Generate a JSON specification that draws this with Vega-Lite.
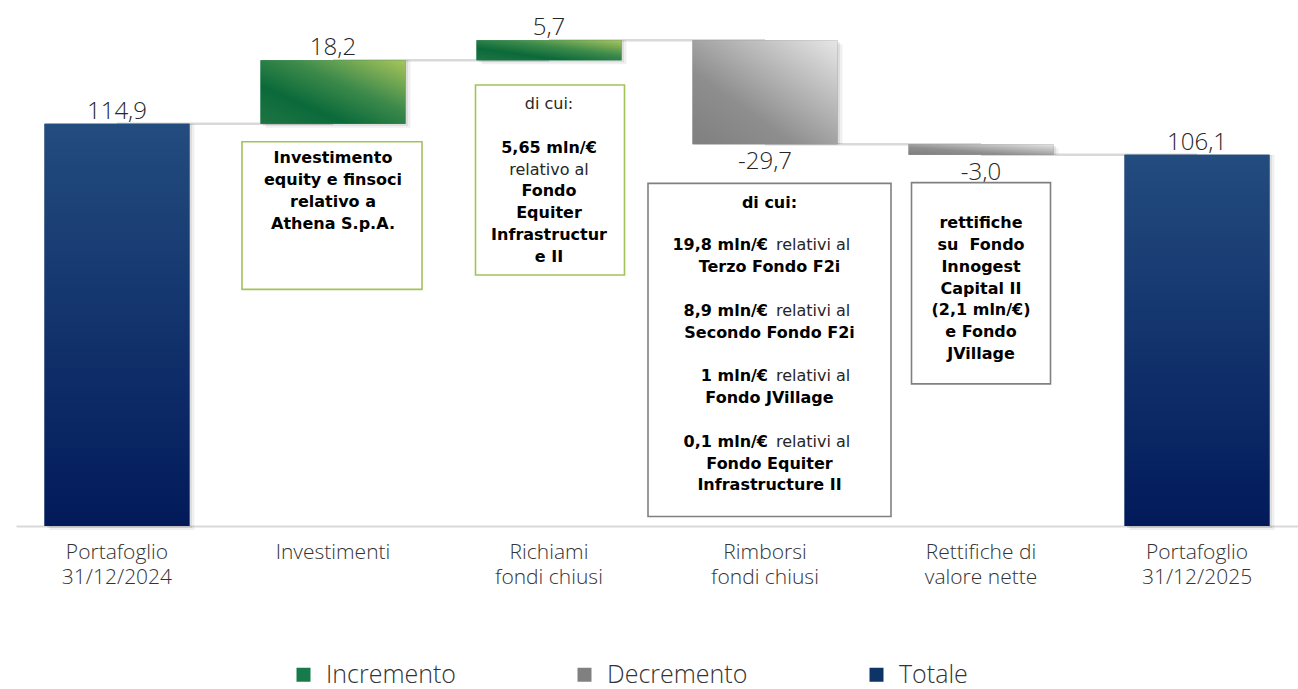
{
  "$schema": "https://vega.github.io/schema/vega-lite/v6.json",
  "width": 1282,
  "height": 525,
  "autosize": "none",
  "padding": {"left": 16, "top": 1, "right": 0, "bottom": 163},
  "background": "white",
  "config": {
    "view": {"stroke": null},
    "font": "Open Sans",
    "locale": {"number": {"decimal": ",", "thousands": ".", "grouping": [3], "currency": ["", " €"], "minus": "-"}}
  },
  "datasets": {
    "bars": [
      {"cat": "Portafoglio|31/12/2024", "start": 0, "end": 114.9, "delta": 114.9, "type": "Totale", "next": "Investimenti"},
      {"cat": "Investimenti", "start": 114.9, "end": 133.1, "delta": 18.2, "type": "Incremento", "next": "Richiami|fondi chiusi"},
      {"cat": "Richiami|fondi chiusi", "start": 133.1, "end": 138.8, "delta": 5.7, "type": "Incremento", "next": "Rimborsi|fondi chiusi"},
      {"cat": "Rimborsi|fondi chiusi", "start": 138.8, "end": 109.1, "delta": -29.7, "type": "Decremento", "next": "Rettifiche di|valore nette"},
      {"cat": "Rettifiche di|valore nette", "start": 109.1, "end": 106.1, "delta": -3.0, "type": "Decremento", "next": "Portafoglio|31/12/2025"},
      {"cat": "Portafoglio|31/12/2025", "start": 0, "end": 106.1, "delta": 106.1, "type": "Totale", "next": null}
    ],
    "boxes": [
      {"cat": "Investimenti", "top": 109.8, "bottom": 67.6},
      {"cat": "Richiami|fondi chiusi", "top": 126.0, "bottom": 71.7},
      {"cat": "Rimborsi|fondi chiusi", "top": 97.9, "bottom": 2.7},
      {"cat": "Rettifiche di|valore nette", "top": 98.1, "bottom": 40.6}
    ],
    "notesB": [
      {"cat": "Investimenti", "v": 103.6, "t": "Investimento\nequity e finsoci\nrelativo a\nAthena S.p.A."},
      {"cat": "Richiami|fondi chiusi", "v": 106.7, "t": "5,65 mln/€"},
      {"cat": "Richiami|fondi chiusi", "v": 94.2, "t": "Fondo\nEquiter\nInfrastructur\ne II"},
      {"cat": "Rettifiche di|valore nette", "v": 85.1, "t": "rettifiche\nsu\u00a0 Fondo\nInnogest\nCapital II\n(2,1 mln/€)\ne Fondo\nJVillage"}
    ],
    "notesR": [
      {"cat": "Richiami|fondi chiusi", "v": 119.1, "t": "di cui:"},
      {"cat": "Richiami|fondi chiusi", "v": 100.4, "t": "relativo al"}
    ],
    "notes3B": [
      {"cat": "Rimborsi|fondi chiusi", "v": 90.8, "t": "di cui:"},
      {"cat": "Rimborsi|fondi chiusi", "v": 72.6, "t": "Terzo Fondo F2i"},
      {"cat": "Rimborsi|fondi chiusi", "v": 53.8, "t": "Secondo Fondo F2i"},
      {"cat": "Rimborsi|fondi chiusi", "v": 35.1, "t": "Fondo JVillage"},
      {"cat": "Rimborsi|fondi chiusi", "v": 16.4, "t": "Fondo Equiter\nInfrastructure II"}
    ],
    "notes3M": [
      {"cat": "Rimborsi|fondi chiusi", "v": 78.9, "b": "19,8 mln/€", "r": "relativi al"},
      {"cat": "Rimborsi|fondi chiusi", "v": 60.1, "b": "8,9 mln/€", "r": "relativi al"},
      {"cat": "Rimborsi|fondi chiusi", "v": 41.4, "b": "1 mln/€", "r": "relativi al"},
      {"cat": "Rimborsi|fondi chiusi", "v": 22.7, "b": "0,1 mln/€", "r": "relativi al"}
    ]
  },
  "encoding": {
    "x": {
      "field": "cat", "type": "nominal", "sort": null,
      "scale": {
        "domain": ["Portafoglio|31/12/2024", "Investimenti", "Richiami|fondi chiusi", "Rimborsi|fondi chiusi", "Rettifiche di|valore nette", "Portafoglio|31/12/2025"],
        "paddingInner": 0.329, "paddingOuter": 0.132
      },
      "axis": {
        "title": null, "labelAngle": 0, "ticks": false, "grid": false,
        "domainColor": "#d9d9d9", "domainWidth": 2,
        "labelExpr": "split(datum.label, '|')",
        "labelFont": "Open Sans", "labelFontSize": 21, "labelFontWeight": 300,
        "labelColor": "#333333", "labelLineHeight": 25, "labelPadding": 15,
        "labelBaseline": "top"
      }
    }
  },
  "layer": [
    {
      "data": {"name": "bars"},
      "transform": [{"filter": "datum.next != null"}],
      "mark": {"type": "rule", "color": "#d9d9d9", "strokeWidth": 2.5},
      "encoding": {
        "x2": {"field": "next"},
        "y": {"field": "end", "type": "quantitative", "scale": {"domain": [0, 150], "nice": false}, "axis": null}
      }
    },
    {
      "data": {"name": "bars"},
      "mark": {"type": "bar", "color": "#000000", "opacity": 0.06, "xOffset": 5, "yOffset": 4},
      "encoding": {
        "y": {"field": "start", "type": "quantitative", "scale": {"domain": [0, 150], "nice": false}, "axis": null},
        "y2": {"field": "end"}
      }
    },
    {
      "data": {"name": "bars"},
      "mark": {"type": "bar", "color": "#000000", "opacity": 0.08, "xOffset": 2.5, "yOffset": 2},
      "encoding": {
        "y": {"field": "start", "type": "quantitative", "scale": {"domain": [0, 150], "nice": false}, "axis": null},
        "y2": {"field": "end"}
      }
    },
    {
      "data": {"name": "bars"},
      "mark": {"type": "bar"},
      "encoding": {
        "y": {"field": "start", "type": "quantitative", "scale": {"domain": [0, 150], "nice": false}, "axis": null},
        "y2": {"field": "end"},
        "color": {
          "field": "type", "type": "nominal",
          "scale": {"domain": ["Incremento", "Decremento", "Totale"], "range": ["#177a4b", "#808080", "#0d3466"]},
          "legend": {
            "title": null, "orient": "none", "legendX": 275, "legendY": 661,
            "direction": "horizontal", "columns": 3, "symbolType": "square", "symbolSize": 196,
            "symbolStrokeWidth": 0, "labelFont": "Open Sans", "labelFontSize": 25, "labelFontWeight": 300,
            "labelColor": "#333333", "labelOffset": 10, "columnPadding": 116, "padding": 0
          }
        }
      }
    },
    {
      "data": {"name": "bars"},
      "transform": [{"filter": "datum.type == 'Totale'"}],
      "mark": {"type": "bar", "color": {"gradient": "linear", "x1": 0, "y1": 0, "x2": 0, "y2": 1,
        "stops": [{"offset": 0, "color": "#234c7f"}, {"offset": 1, "color": "#021a5a"}]}},
      "encoding": {
        "y": {"field": "start", "type": "quantitative", "scale": {"domain": [0, 150], "nice": false}, "axis": null},
        "y2": {"field": "end"}
      }
    },
    {
      "data": {"name": "bars"},
      "transform": [{"filter": "datum.type == 'Incremento'"}],
      "mark": {"type": "bar", "color": {"gradient": "linear", "x1": 0, "y1": 1, "x2": 1, "y2": 0,
        "stops": [{"offset": 0, "color": "#1f7443"}, {"offset": 0.3, "color": "#0b6a3a"}, {"offset": 0.6, "color": "#3d8a4b"}, {"offset": 1, "color": "#a9c55b"}]}},
      "encoding": {
        "y": {"field": "start", "type": "quantitative", "scale": {"domain": [0, 150], "nice": false}, "axis": null},
        "y2": {"field": "end"}
      }
    },
    {
      "data": {"name": "bars"},
      "transform": [{"filter": "datum.type == 'Decremento'"}],
      "mark": {"type": "bar", "color": {"gradient": "linear", "x1": 0, "y1": 1, "x2": 1, "y2": 0,
        "stops": [{"offset": 0, "color": "#7f7f7f"}, {"offset": 0.35, "color": "#8e8e8e"}, {"offset": 1, "color": "#e6e6e6"}]}},
      "encoding": {
        "y": {"field": "start", "type": "quantitative", "scale": {"domain": [0, 150], "nice": false}, "axis": null},
        "y2": {"field": "end"}
      }
    },
    {
      "data": {"name": "bars"},
      "transform": [{"filter": "datum.delta > 0"}],
      "mark": {"type": "text", "baseline": "alphabetic", "dy": -5, "font": "Open Sans", "fontSize": 24, "fontWeight": 300, "color": "#262626"},
      "encoding": {
        "y": {"field": "end", "type": "quantitative", "scale": {"domain": [0, 150], "nice": false}, "axis": null},
        "text": {"field": "delta", "type": "quantitative", "format": ".1f"}
      }
    },
    {
      "data": {"name": "bars"},
      "transform": [{"filter": "datum.delta < 0"}],
      "mark": {"type": "text", "baseline": "top", "dy": 6, "font": "Open Sans", "fontSize": 24, "fontWeight": 300, "color": "#262626"},
      "encoding": {
        "y": {"field": "end", "type": "quantitative", "scale": {"domain": [0, 150], "nice": false}, "axis": null},
        "text": {"field": "delta", "type": "quantitative", "format": ".1f"}
      }
    },
    {
      "data": {"name": "boxes"},
      "transform": [{"filter": "datum.cat == 'Investimenti'"}],
      "mark": {"type": "bar", "width": 180, "xOffset": -1, "fill": "white", "stroke": "#a1c45a", "strokeWidth": 1.6},
      "encoding": {
        "y": {"field": "top", "type": "quantitative", "scale": {"domain": [0, 150], "nice": false}, "axis": null},
        "y2": {"field": "bottom"}
      }
    },
    {
      "data": {"name": "boxes"},
      "transform": [{"filter": "datum.cat == 'Richiami|fondi chiusi'"}],
      "mark": {"type": "bar", "width": 149, "xOffset": 1, "fill": "white", "stroke": "#a1c45a", "strokeWidth": 1.6},
      "encoding": {
        "y": {"field": "top", "type": "quantitative", "scale": {"domain": [0, 150], "nice": false}, "axis": null},
        "y2": {"field": "bottom"}
      }
    },
    {
      "data": {"name": "boxes"},
      "transform": [{"filter": "datum.cat == 'Rimborsi|fondi chiusi'"}],
      "mark": {"type": "bar", "width": 243, "xOffset": 4.5, "fill": "white", "stroke": "#808080", "strokeWidth": 1.6},
      "encoding": {
        "y": {"field": "top", "type": "quantitative", "scale": {"domain": [0, 150], "nice": false}, "axis": null},
        "y2": {"field": "bottom"}
      }
    },
    {
      "data": {"name": "boxes"},
      "transform": [{"filter": "datum.cat == 'Rettifiche di|valore nette'"}],
      "mark": {"type": "bar", "width": 139, "fill": "white", "stroke": "#808080", "strokeWidth": 1.6},
      "encoding": {
        "y": {"field": "top", "type": "quantitative", "scale": {"domain": [0, 150], "nice": false}, "axis": null},
        "y2": {"field": "bottom"}
      }
    },
    {
      "data": {"name": "notesB"},
      "mark": {"type": "text", "align": "center", "baseline": "alphabetic", "lineBreak": "\n", "lineHeight": 21.8,
        "font": "DejaVu Sans", "fontSize": 16, "fontWeight": "bold", "color": "#000000"},
      "encoding": {
        "y": {"field": "v", "type": "quantitative", "scale": {"domain": [0, 150], "nice": false}, "axis": null},
        "text": {"field": "t", "type": "nominal"}
      }
    },
    {
      "data": {"name": "notesR"},
      "mark": {"type": "text", "align": "center", "baseline": "alphabetic", "lineBreak": "\n", "lineHeight": 21.8,
        "font": "DejaVu Sans", "fontSize": 16, "fontWeight": "normal", "color": "#262626"},
      "encoding": {
        "y": {"field": "v", "type": "quantitative", "scale": {"domain": [0, 150], "nice": false}, "axis": null},
        "text": {"field": "t", "type": "nominal"}
      }
    },
    {
      "data": {"name": "notes3B"},
      "mark": {"type": "text", "align": "center", "dx": 4.5, "baseline": "alphabetic", "lineBreak": "\n", "lineHeight": 21.8,
        "font": "DejaVu Sans", "fontSize": 16, "fontWeight": "bold", "color": "#000000"},
      "encoding": {
        "y": {"field": "v", "type": "quantitative", "scale": {"domain": [0, 150], "nice": false}, "axis": null},
        "text": {"field": "t", "type": "nominal"}
      }
    },
    {
      "data": {"name": "notes3M"},
      "mark": {"type": "text", "align": "right", "dx": 3, "baseline": "alphabetic",
        "font": "DejaVu Sans", "fontSize": 16, "fontWeight": "bold", "color": "#000000"},
      "encoding": {
        "y": {"field": "v", "type": "quantitative", "scale": {"domain": [0, 150], "nice": false}, "axis": null},
        "text": {"field": "b", "type": "nominal"}
      }
    },
    {
      "data": {"name": "notes3M"},
      "mark": {"type": "text", "align": "left", "dx": 11, "baseline": "alphabetic",
        "font": "DejaVu Sans", "fontSize": 16, "fontWeight": "normal", "color": "#262626"},
      "encoding": {
        "y": {"field": "v", "type": "quantitative", "scale": {"domain": [0, 150], "nice": false}, "axis": null},
        "text": {"field": "r", "type": "nominal"}
      }
    }
  ]
}
